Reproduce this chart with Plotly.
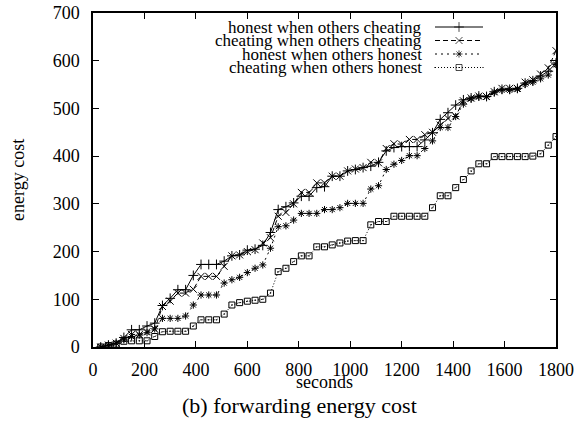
import plotly.graph_objects as go

seconds = [30, 60, 90, 120, 150, 180, 210, 240, 270, 300, 330, 360, 390, 420, 450,
           480, 510, 540, 570, 600, 630, 660, 690, 720, 750, 780, 810, 840, 870, 900,
           930, 960, 990, 1020, 1050, 1080, 1110, 1140, 1170, 1200, 1230, 1260, 1290,
           1320, 1350, 1380, 1410, 1440, 1470, 1500, 1530, 1560, 1590, 1620, 1650,
           1680, 1710, 1740, 1770, 1800]

honest_cheating = [0, 4, 8, 20, 36, 36, 44, 50, 87, 102, 120, 120, 150, 173, 173,
                   173, 180, 191, 193, 203, 205, 213, 240, 288, 294, 302, 316, 316, 334, 336,
                   358, 358, 369, 372, 376, 379, 387, 411, 418, 420, 420, 420, 434,
                   449, 477, 491, 507, 518, 522, 526, 525, 535, 540, 540, 542,
                   553, 558, 568, 578, 595]

cheating_cheating = [0, 4, 8, 18, 26, 26, 32, 37, 85, 96, 113, 113, 121, 148, 148,
                     148, 169, 191, 193, 200, 204, 218, 229, 274, 282, 300, 324, 324, 344, 344,
                     358, 358, 369, 373, 376, 387, 386, 416, 426, 425, 435, 435, 445,
                     450, 465, 479, 484, 516, 522, 526, 525, 535, 542, 542, 542,
                     555, 560, 572, 585, 621]

honest_honest = [0, 4, 8, 15, 22, 25, 30, 38, 60, 60, 60, 65, 88, 109, 109,
                 109, 134, 141, 146, 156, 165, 172, 207, 252, 254, 266, 280, 280, 280, 288,
                 288, 292, 301, 301, 301, 331, 338, 372, 383, 391, 401, 401, 416,
                 432, 460, 460, 483, 509, 520, 524, 524, 533, 538, 538, 540,
                 550, 555, 562, 570, 592]

cheating_honest = [0, 3, 6, 12, 13, 13, 13, 22, 32, 33, 33, 33, 44, 57, 57,
                   57, 69, 88, 93, 96, 98, 100, 113, 158, 165, 179, 191, 191, 210, 210,
                   214, 218, 222, 223, 223, 256, 263, 263, 274, 274, 274, 274, 274,
                   292, 317, 317, 334, 351, 369, 384, 384, 399, 399, 399, 399,
                   399, 400, 405, 423, 441]

series_names = ["honest when others cheating", "cheating when others cheating",
                "honest when others honest", "cheating when others honest"]
series_values = [honest_cheating, cheating_cheating, honest_honest, cheating_honest]
dashes = ["solid", "5px,3px", "2px,4px", "1px,2px"]
symbols = ["cross-thin-open", "x-thin-open", "asterisk-open", "square-open-dot"]
sizes = [7, 7, 6, 6]

x_ticks = list(range(0, 1801, 200))
y_ticks = list(range(0, 701, 100))

FONT = "Liberation Serif, Times New Roman, serif"

fig = go.Figure()
for name, vals, dash, sym, sz in zip(series_names, series_values, dashes, symbols, sizes):
    fig.add_trace(go.Scatter(
        x=seconds, y=vals, mode="lines+markers", name=name, showlegend=False,
        line=dict(color="black", width=1, dash=dash),
        marker=dict(symbol=sym, size=sz, color="black",
                    line=dict(color="black", width=1)),
    ))

# gnuplot-style key (text on the left, sample on the right), placed on an
# auxiliary pixel-space axis that covers the plot area
legend_rows = [27, 40.5, 54, 67.5]
for name, dash, sym, sz, yy in zip(series_names, dashes, symbols, sizes, legend_rows):
    fig.add_trace(go.Scatter(
        x=[435, 459, 483], y=[yy, yy, yy], mode="lines+markers",
        xaxis="x2", yaxis="y2", showlegend=False, hoverinfo="skip",
        line=dict(color="black", width=1, dash=dash),
        marker=dict(symbol=sym, size=[0, sz, 0], color="black",
                    line=dict(color="black", width=1)),
    ))
    fig.add_annotation(x=424, y=yy, xref="x2", yref="y2", text=name,
                       showarrow=False, xanchor="right", yanchor="middle",
                       font=dict(family=FONT, size=17, color="black"))

axis_common = dict(showline=True, linecolor="black", linewidth=1.5, mirror="ticks",
                   ticks="inside", ticklen=6, tickwidth=1, tickcolor="black",
                   showgrid=False, zeroline=False, automargin=False,
                   tickfont=dict(family=FONT, size=18, color="black"))

fig.update_layout(
    width=585, height=430,
    margin=dict(l=93, r=29, t=13, b=83),
    paper_bgcolor="white", plot_bgcolor="white",
    font=dict(family=FONT, size=18, color="black"),
    xaxis=dict(range=[0, 1800], tickvals=x_ticks, ticklabelstandoff=6, **axis_common),
    yaxis=dict(range=[0, 700], tickvals=y_ticks, ticklabelstandoff=8, **axis_common),
    xaxis2=dict(range=[93, 556], overlaying="x", visible=False, fixedrange=True),
    yaxis2=dict(range=[347, 13], overlaying="y", visible=False, fixedrange=True),
)

fig.add_annotation(x=0.5, y=0, xref="paper", yref="paper", yshift=-35,
                   text="seconds", showarrow=False,
                   xanchor="center", yanchor="middle",
                   font=dict(family=FONT, size=18, color="black"))
fig.add_annotation(x=0, y=0.5, xref="paper", yref="paper", xshift=-75,
                   text="energy cost", showarrow=False, textangle=-90,
                   xanchor="center", yanchor="middle",
                   font=dict(family=FONT, size=18, color="black"))
fig.add_annotation(x=0.447, y=0, xref="paper", yref="paper", yshift=-58,
                   text="(b) forwarding energy cost", showarrow=False,
                   xanchor="center", yanchor="middle",
                   font=dict(family=FONT, size=22, color="black"))

fig.write_html("out.html", config={"displayModeBar": False},
               post_script="document.body.style.margin='0';document.body.style.overflow='hidden';")
